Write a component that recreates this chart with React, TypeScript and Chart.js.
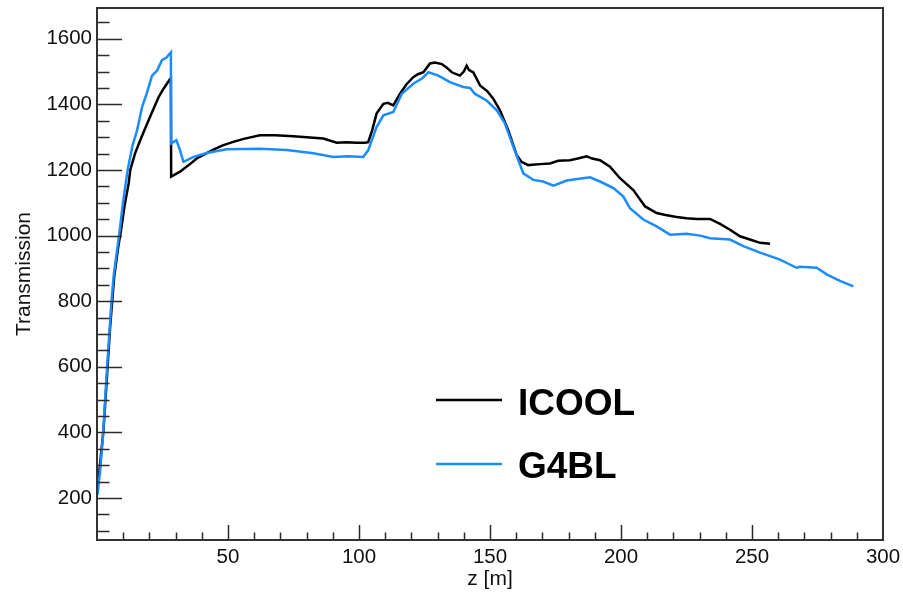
import React, { useEffect, useRef } from 'react';
import { Chart, registerables } from 'chart.js';

Chart.register(...registerables);

// ---- data ----
const seriesNames = ['ICOOL', 'G4BL'];
const seriesColors = ['#000000', '#1a8cff'];

const zICOOL = [
  0.5, 1.5, 2.5, 3.8, 5.0, 6.6, 8.0, 9.2, 10.5, 12.1, 12.7, 14.5, 16.5, 18.0, 19.7, 21.5, 23.5, 25.4, 27.7, 28.2,
  28.3, 31.7, 35, 38.2, 41, 44.4, 48, 52, 56, 62.2, 68, 74.9, 80, 86.4, 91.5, 95, 99, 102.3, 103.5, 105,
  106.7, 109.3, 111, 113.1, 115.6, 118, 120.7, 122.5, 124.6, 127.1, 129, 131.6, 133.5, 135.4, 138.5, 140, 141.1, 142, 143.6, 146.2,
  149, 151.3, 153.8, 157, 160.2, 162, 164.6, 169.1, 172.9, 176, 180.5, 183.5, 186.9, 189, 192, 195.8, 199.6, 204.7, 209.2, 213.6,
  217, 221.2, 225, 228.9, 234, 237.8, 241.6, 245.4, 249.2, 253.1, 256.9,
];
const tICOOL = [
  250, 330, 410, 570, 720, 877, 960, 1018, 1090, 1160, 1200, 1250, 1291, 1320, 1352, 1385, 1422, 1448, 1475, 1480,
  1180, 1195, 1215, 1236, 1248, 1262, 1275, 1286, 1295, 1306, 1306, 1303, 1300, 1296, 1283, 1285, 1283, 1283, 1285, 1320,
  1372, 1402, 1405, 1397, 1432, 1460, 1483, 1492, 1498, 1525, 1528, 1523, 1512, 1498, 1488, 1500, 1518, 1505, 1498, 1458,
  1440, 1417, 1382, 1321, 1245, 1225, 1215, 1218, 1220, 1228, 1230, 1235, 1242, 1235, 1230, 1210, 1175, 1139, 1089, 1069,
  1063, 1057, 1053, 1051, 1051, 1036, 1018, 998, 988, 978, 975,
];

const zG4BL = [
  0.2, 1.3, 2.3, 3.8, 5.5, 6.4, 8.7, 9.9, 11.7, 13.6, 15.3, 17.2, 19.1, 21.0, 22.9, 24.8, 26.5, 28.2,
  28.3, 30.3, 31.7, 33, 36.9, 41.9, 49.5, 62.2, 72.4, 82.6, 90.2, 96, 101.6, 103.5, 106.7, 109.3, 113.1, 116.3,
  120.7, 123.9, 126.5, 130.3, 134.7, 139.8, 142.4, 144.3, 148.7, 152.6, 155.7, 158.9, 162.7, 166.5, 170.3, 174.2, 179.3, 188.2,
  192, 197.1, 200.9, 203.4, 208.5, 213.6, 218.7, 225, 230.2, 234, 241.6, 246.7, 253.1, 260.7, 267, 268.3, 274.7, 278.5, 283.6, 288.7,
];
const tG4BL = [
  210, 291, 392, 594, 797, 880, 1018, 1100, 1200, 1276, 1321, 1392, 1437, 1488, 1503, 1535, 1543, 1559,
  1281, 1291, 1260, 1225, 1240, 1252, 1263, 1265, 1261, 1251, 1240, 1242, 1240, 1260, 1331, 1367, 1377, 1432,
  1463, 1478, 1498, 1488, 1468, 1453, 1450, 1432, 1412, 1382, 1342, 1271, 1190, 1170, 1165, 1152, 1168, 1178,
  1165, 1145, 1119, 1084, 1049, 1028, 1003, 1006, 1000, 992, 988, 968, 948, 927, 902, 905, 902, 882, 862, 845,
];

const xTicks = [50, 100, 150, 200, 250, 300];
const yTicks = [200, 400, 600, 800, 1000, 1200, 1400, 1600];
const xRange = [0, 300];
const yRange = [72, 1694];
const xMinorStep = 10;
const yMinorStep = 50;
const xTitle = 'z [m]';
const yTitle = 'Transmission';

const FONT = '"Liberation Sans", Arial, Helvetica, sans-serif';
const TEXT_COLOR = '#111111';

const rootFramePlugin = {
  id: 'rootFrame',
  afterDatasetsDraw(chart: any) {
    const { ctx, chartArea: a, scales } = chart;
    const x = scales.x;
    const y = scales.y;
    ctx.save();
    ctx.strokeStyle = '#2a2a2a';
    ctx.lineWidth = 1.5;
    ctx.beginPath();
    for (let v = xRange[0] + xMinorStep; v < xRange[1]; v += xMinorStep) {
      const px = Math.round(x.getPixelForValue(v)) + 0.5;
      const len = v % 50 === 0 ? 15 : 7.5;
      ctx.moveTo(px, a.bottom);
      ctx.lineTo(px, a.bottom - len);
    }
    const yStart = Math.ceil(yRange[0] / yMinorStep) * yMinorStep;
    for (let v = yStart; v < yRange[1]; v += yMinorStep) {
      const py = Math.round(y.getPixelForValue(v)) + 0.5;
      const len = v % 200 === 0 ? 25 : 12.5;
      ctx.moveTo(a.left, py);
      ctx.lineTo(a.left + len, py);
    }
    ctx.stroke();
    ctx.lineWidth = 2;
    ctx.strokeStyle = '#333333';
    ctx.strokeRect(a.left, a.top, a.right - a.left, a.bottom - a.top);
    ctx.restore();
  },
  afterDraw(chart: any) {
    const { ctx } = chart;
    ctx.save();
    const lineX0 = 436;
    const lineX1 = 502;
    const textX = 518;
    const rows = [
      { lineY: 400, base: 415 },
      { lineY: 464, base: 478 },
    ];
    chart.data.datasets.forEach((ds: any, i: number) => {
      const r = rows[i];
      ctx.strokeStyle = ds.borderColor;
      ctx.lineWidth = 2.5;
      ctx.beginPath();
      ctx.moveTo(lineX0, r.lineY);
      ctx.lineTo(lineX1, r.lineY);
      ctx.stroke();
      ctx.fillStyle = '#000000';
      ctx.font = `bold 37px ${FONT}`;
      ctx.textBaseline = 'alphabetic';
      ctx.textAlign = 'left';
      ctx.fillText(ds.label, textX, r.base);
    });
    ctx.restore();
  },
};

export default function App() {
  const ref = useRef<HTMLCanvasElement | null>(null);

  useEffect(() => {
    if (!ref.current) return;
    const toPts = (xs: number[], ys: number[]) => xs.map((v, i) => ({ x: v, y: ys[i] }));
    const chart = new Chart(ref.current, {
      type: 'line',
      data: {
        datasets: [
          {
            label: seriesNames[0],
            data: toPts(zICOOL, tICOOL),
            borderColor: seriesColors[0],
            backgroundColor: seriesColors[0],
            borderWidth: 2.5,
            pointRadius: 0,
            tension: 0,
            order: 1,
          },
          {
            label: seriesNames[1],
            data: toPts(zG4BL, tG4BL),
            borderColor: seriesColors[1],
            backgroundColor: seriesColors[1],
            borderWidth: 2.5,
            pointRadius: 0,
            tension: 0,
            order: 0,
          },
        ],
      },
      options: {
        animation: false,
        responsive: false,
        devicePixelRatio: 1,
        layout: { padding: { left: 0, right: 20, top: 8, bottom: 0 } },
        plugins: { legend: { display: false }, tooltip: { enabled: false } },
        scales: {
          x: {
            type: 'linear',
            min: xRange[0],
            max: xRange[1],
            grid: { display: false, drawTicks: false },
            border: { display: false },
            ticks: {
              font: { family: FONT, size: 20.5 },
              color: TEXT_COLOR,
              padding: 5,
              maxRotation: 0,
              autoSkip: false,
              callback: (v: any) => String(v),
            },
            afterBuildTicks: (s: any) => {
              s.ticks = xTicks.map((v) => ({ value: v }));
            },
            afterFit: (s: any) => {
              s.height = 52;
              s.paddingLeft = 0;
              s.paddingRight = 0;
            },
            title: {
              display: true,
              text: xTitle,
              font: { family: FONT, size: 21 },
              color: TEXT_COLOR,
              padding: { top: 0, bottom: 0 },
            },
          },
          y: {
            type: 'linear',
            min: yRange[0],
            max: yRange[1],
            grid: { display: false, drawTicks: false },
            border: { display: false },
            ticks: {
              font: { family: FONT, size: 20.5 },
              color: TEXT_COLOR,
              padding: 5,
              autoSkip: false,
              callback: (v: any) => String(v),
            },
            afterBuildTicks: (s: any) => {
              s.ticks = yTicks.map((v) => ({ value: v }));
            },
            afterFit: (s: any) => {
              s.width = 97;
              s.paddingTop = 0;
              s.paddingBottom = 0;
            },
            title: {
              display: true,
              text: yTitle,
              font: { family: FONT, size: 21 },
              color: TEXT_COLOR,
              padding: { top: 12, bottom: 0 },
            },
          },
        },
      },
      plugins: [rootFramePlugin],
    });
    return () => chart.destroy();
  }, []);

  return (
    <div style={{ position: 'absolute', left: 0, top: 0, width: 903, height: 592, background: '#ffffff' }}>
      <canvas ref={ref} width={903} height={592} style={{ display: 'block', width: 903, height: 592 }} />
    </div>
  );
}
